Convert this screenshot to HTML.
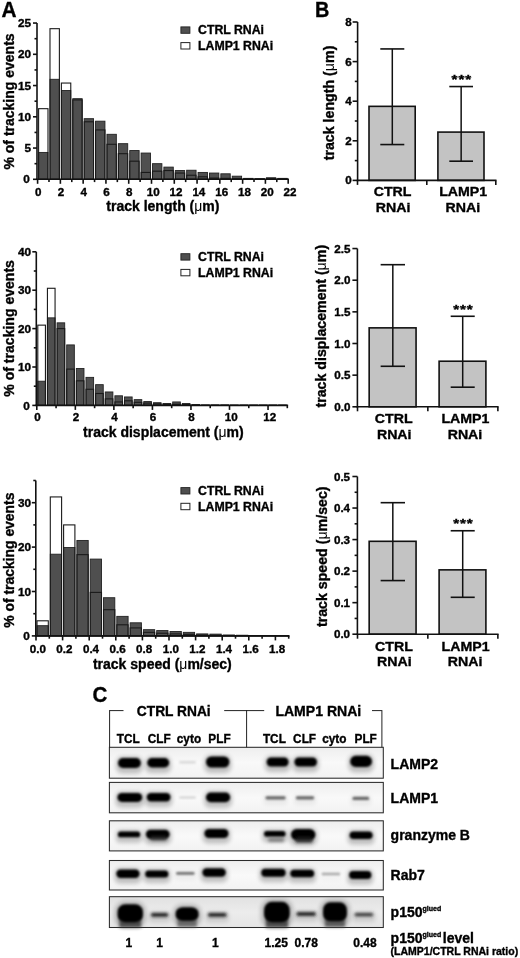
<!DOCTYPE html>
<html><head><meta charset="utf-8"><style>
html,body{margin:0;padding:0;background:#fff;}
svg{display:block;filter:grayscale(1) blur(0.4px);}
</style></head><body>
<svg width="520" height="958" viewBox="0 0 520 958" font-family="'Liberation Sans', sans-serif" font-weight="bold" fill="#000">
<style>text{stroke:#000;stroke-width:0.35px;paint-order:stroke;}</style>
<rect width="520" height="958" fill="#fff"/>
<rect x="38.60" y="152.43" width="9.39" height="26.88" fill="#4f4f4f" stroke="#222" stroke-width="0.9"/>
<rect x="49.99" y="79.30" width="9.39" height="100.00" fill="#4f4f4f" stroke="#222" stroke-width="0.9"/>
<rect x="61.38" y="90.55" width="9.39" height="88.75" fill="#4f4f4f" stroke="#222" stroke-width="0.9"/>
<rect x="72.77" y="98.68" width="9.39" height="80.62" fill="#4f4f4f" stroke="#222" stroke-width="0.9"/>
<rect x="84.16" y="118.68" width="9.39" height="60.62" fill="#4f4f4f" stroke="#222" stroke-width="0.9"/>
<rect x="95.55" y="121.18" width="9.39" height="58.13" fill="#4f4f4f" stroke="#222" stroke-width="0.9"/>
<rect x="106.94" y="134.30" width="9.39" height="45.00" fill="#4f4f4f" stroke="#222" stroke-width="0.9"/>
<rect x="118.33" y="143.68" width="9.39" height="35.62" fill="#4f4f4f" stroke="#222" stroke-width="0.9"/>
<rect x="129.72" y="150.55" width="9.39" height="28.75" fill="#4f4f4f" stroke="#222" stroke-width="0.9"/>
<rect x="141.11" y="153.05" width="9.39" height="26.25" fill="#4f4f4f" stroke="#222" stroke-width="0.9"/>
<rect x="152.50" y="163.68" width="9.39" height="15.62" fill="#4f4f4f" stroke="#222" stroke-width="0.9"/>
<rect x="163.89" y="167.11" width="9.39" height="12.19" fill="#4f4f4f" stroke="#222" stroke-width="0.9"/>
<rect x="175.28" y="170.55" width="9.39" height="8.75" fill="#4f4f4f" stroke="#222" stroke-width="0.9"/>
<rect x="186.67" y="170.24" width="9.39" height="9.06" fill="#4f4f4f" stroke="#222" stroke-width="0.9"/>
<rect x="198.06" y="172.43" width="9.39" height="6.88" fill="#4f4f4f" stroke="#222" stroke-width="0.9"/>
<rect x="209.45" y="173.05" width="9.39" height="6.25" fill="#4f4f4f" stroke="#222" stroke-width="0.9"/>
<rect x="220.84" y="173.80" width="9.39" height="5.50" fill="#4f4f4f" stroke="#222" stroke-width="0.9"/>
<rect x="232.23" y="176.18" width="9.39" height="3.12" fill="#4f4f4f" stroke="#222" stroke-width="0.9"/>
<rect x="243.62" y="178.36" width="9.39" height="0.94" fill="#4f4f4f" stroke="#222" stroke-width="0.9"/>
<rect x="255.01" y="178.68" width="9.39" height="0.62" fill="#4f4f4f" stroke="#222" stroke-width="0.9"/>
<rect x="266.40" y="177.74" width="9.39" height="1.56" fill="#4f4f4f" stroke="#222" stroke-width="0.9"/>
<rect x="277.79" y="178.36" width="9.39" height="0.94" fill="#4f4f4f" stroke="#222" stroke-width="0.9"/>
<rect x="38.60" y="108.68" width="9.39" height="70.62" fill="none" stroke="#1a1a1a" stroke-width="1.1"/>
<rect x="49.99" y="28.68" width="9.39" height="150.62" fill="none" stroke="#1a1a1a" stroke-width="1.1"/>
<rect x="61.38" y="83.05" width="9.39" height="96.25" fill="none" stroke="#1a1a1a" stroke-width="1.1"/>
<rect x="72.77" y="99.93" width="9.39" height="79.38" fill="none" stroke="#1a1a1a" stroke-width="1.1"/>
<rect x="84.16" y="121.80" width="9.39" height="57.50" fill="none" stroke="#1a1a1a" stroke-width="1.1"/>
<rect x="95.55" y="129.93" width="9.39" height="49.38" fill="none" stroke="#1a1a1a" stroke-width="1.1"/>
<rect x="106.94" y="144.30" width="9.39" height="35.00" fill="none" stroke="#1a1a1a" stroke-width="1.1"/>
<rect x="118.33" y="153.68" width="9.39" height="25.62" fill="none" stroke="#1a1a1a" stroke-width="1.1"/>
<rect x="129.72" y="161.18" width="9.39" height="18.12" fill="none" stroke="#1a1a1a" stroke-width="1.1"/>
<rect x="141.11" y="172.43" width="9.39" height="6.88" fill="none" stroke="#1a1a1a" stroke-width="1.1"/>
<rect x="152.50" y="171.18" width="9.39" height="8.12" fill="none" stroke="#1a1a1a" stroke-width="1.1"/>
<rect x="163.89" y="170.55" width="9.39" height="8.75" fill="none" stroke="#1a1a1a" stroke-width="1.1"/>
<rect x="175.28" y="173.05" width="9.39" height="6.25" fill="none" stroke="#1a1a1a" stroke-width="1.1"/>
<rect x="186.67" y="175.24" width="9.39" height="4.06" fill="none" stroke="#1a1a1a" stroke-width="1.1"/>
<rect x="198.06" y="176.80" width="9.39" height="2.50" fill="none" stroke="#1a1a1a" stroke-width="1.1"/>
<rect x="209.45" y="178.05" width="9.39" height="1.25" fill="none" stroke="#1a1a1a" stroke-width="1.1"/>
<rect x="220.84" y="178.36" width="9.39" height="0.94" fill="none" stroke="#1a1a1a" stroke-width="1.1"/>
<rect x="232.23" y="178.68" width="9.39" height="0.62" fill="none" stroke="#1a1a1a" stroke-width="1.1"/>
<rect x="243.62" y="178.99" width="9.39" height="0.31" fill="none" stroke="#1a1a1a" stroke-width="1.1"/>
<rect x="255.01" y="178.99" width="9.39" height="0.31" fill="none" stroke="#1a1a1a" stroke-width="1.1"/>
<rect x="266.40" y="178.68" width="9.39" height="0.62" fill="none" stroke="#1a1a1a" stroke-width="1.1"/>
<rect x="277.79" y="178.99" width="9.39" height="0.31" fill="none" stroke="#1a1a1a" stroke-width="1.1"/>
<line x1="37.00" y1="179.30" x2="37.00" y2="23.05" stroke="#111" stroke-width="1.6"/>
<line x1="33.00" y1="179.30" x2="37.00" y2="179.30" stroke="#111" stroke-width="1.6"/>
<line x1="34.50" y1="163.68" x2="37.00" y2="163.68" stroke="#111" stroke-width="1.6"/>
<line x1="33.00" y1="148.05" x2="37.00" y2="148.05" stroke="#111" stroke-width="1.6"/>
<line x1="34.50" y1="132.43" x2="37.00" y2="132.43" stroke="#111" stroke-width="1.6"/>
<line x1="33.00" y1="116.80" x2="37.00" y2="116.80" stroke="#111" stroke-width="1.6"/>
<line x1="34.50" y1="101.18" x2="37.00" y2="101.18" stroke="#111" stroke-width="1.6"/>
<line x1="33.00" y1="85.55" x2="37.00" y2="85.55" stroke="#111" stroke-width="1.6"/>
<line x1="34.50" y1="69.93" x2="37.00" y2="69.93" stroke="#111" stroke-width="1.6"/>
<line x1="33.00" y1="54.30" x2="37.00" y2="54.30" stroke="#111" stroke-width="1.6"/>
<line x1="34.50" y1="38.68" x2="37.00" y2="38.68" stroke="#111" stroke-width="1.6"/>
<line x1="33.00" y1="23.05" x2="37.00" y2="23.05" stroke="#111" stroke-width="1.6"/>
<text transform="translate(29.80,183.40) scale(1.07,1)" font-size="11.0" text-anchor="end" >0</text>
<text transform="translate(31.10,152.15) scale(1.07,1)" font-size="11.0" text-anchor="end" >5</text>
<text transform="translate(31.10,120.90) scale(1.07,1)" font-size="11.0" text-anchor="end" >10</text>
<text transform="translate(31.10,89.65) scale(1.07,1)" font-size="11.0" text-anchor="end" >15</text>
<text transform="translate(31.10,58.40) scale(1.07,1)" font-size="11.0" text-anchor="end" >20</text>
<text transform="translate(31.10,27.15) scale(1.07,1)" font-size="11.0" text-anchor="end" >25</text>
<line x1="36.20" y1="179.30" x2="288.98" y2="179.30" stroke="#111" stroke-width="1.6"/>
<line x1="37.60" y1="179.30" x2="37.60" y2="183.80" stroke="#111" stroke-width="1.6"/>
<line x1="48.99" y1="179.30" x2="48.99" y2="182.10" stroke="#111" stroke-width="1.6"/>
<line x1="60.38" y1="179.30" x2="60.38" y2="183.80" stroke="#111" stroke-width="1.6"/>
<line x1="71.77" y1="179.30" x2="71.77" y2="182.10" stroke="#111" stroke-width="1.6"/>
<line x1="83.16" y1="179.30" x2="83.16" y2="183.80" stroke="#111" stroke-width="1.6"/>
<line x1="94.55" y1="179.30" x2="94.55" y2="182.10" stroke="#111" stroke-width="1.6"/>
<line x1="105.94" y1="179.30" x2="105.94" y2="183.80" stroke="#111" stroke-width="1.6"/>
<line x1="117.33" y1="179.30" x2="117.33" y2="182.10" stroke="#111" stroke-width="1.6"/>
<line x1="128.72" y1="179.30" x2="128.72" y2="183.80" stroke="#111" stroke-width="1.6"/>
<line x1="140.11" y1="179.30" x2="140.11" y2="182.10" stroke="#111" stroke-width="1.6"/>
<line x1="151.50" y1="179.30" x2="151.50" y2="183.80" stroke="#111" stroke-width="1.6"/>
<line x1="162.89" y1="179.30" x2="162.89" y2="182.10" stroke="#111" stroke-width="1.6"/>
<line x1="174.28" y1="179.30" x2="174.28" y2="183.80" stroke="#111" stroke-width="1.6"/>
<line x1="185.67" y1="179.30" x2="185.67" y2="182.10" stroke="#111" stroke-width="1.6"/>
<line x1="197.06" y1="179.30" x2="197.06" y2="183.80" stroke="#111" stroke-width="1.6"/>
<line x1="208.45" y1="179.30" x2="208.45" y2="182.10" stroke="#111" stroke-width="1.6"/>
<line x1="219.84" y1="179.30" x2="219.84" y2="183.80" stroke="#111" stroke-width="1.6"/>
<line x1="231.23" y1="179.30" x2="231.23" y2="182.10" stroke="#111" stroke-width="1.6"/>
<line x1="242.62" y1="179.30" x2="242.62" y2="183.80" stroke="#111" stroke-width="1.6"/>
<line x1="254.01" y1="179.30" x2="254.01" y2="182.10" stroke="#111" stroke-width="1.6"/>
<line x1="265.40" y1="179.30" x2="265.40" y2="183.80" stroke="#111" stroke-width="1.6"/>
<line x1="276.79" y1="179.30" x2="276.79" y2="182.10" stroke="#111" stroke-width="1.6"/>
<line x1="288.18" y1="179.30" x2="288.18" y2="183.80" stroke="#111" stroke-width="1.6"/>
<text transform="translate(38.20,195.90) scale(1.06,1)" font-size="11.0" text-anchor="middle" >0</text>
<text transform="translate(60.98,195.90) scale(1.06,1)" font-size="11.0" text-anchor="middle" >2</text>
<text transform="translate(83.76,195.90) scale(1.06,1)" font-size="11.0" text-anchor="middle" >4</text>
<text transform="translate(106.54,195.90) scale(1.06,1)" font-size="11.0" text-anchor="middle" >6</text>
<text transform="translate(129.32,195.90) scale(1.06,1)" font-size="11.0" text-anchor="middle" >8</text>
<text transform="translate(153.30,195.90) scale(1.06,1)" font-size="11.0" text-anchor="middle" >10</text>
<text transform="translate(176.08,195.90) scale(1.06,1)" font-size="11.0" text-anchor="middle" >12</text>
<text transform="translate(198.86,195.90) scale(1.06,1)" font-size="11.0" text-anchor="middle" >14</text>
<text transform="translate(221.64,195.90) scale(1.06,1)" font-size="11.0" text-anchor="middle" >16</text>
<text transform="translate(244.42,195.90) scale(1.06,1)" font-size="11.0" text-anchor="middle" >18</text>
<text transform="translate(267.20,195.90) scale(1.06,1)" font-size="11.0" text-anchor="middle" >20</text>
<text transform="translate(289.98,195.90) scale(1.06,1)" font-size="11.0" text-anchor="middle" >22</text>
<text x="162.89" y="210.80" font-size="14" text-anchor="middle" >track length (<tspan font-weight="normal" style="stroke-width:0">μ</tspan>m)</text>
<text transform="translate(13.6,101.48) rotate(-90)" font-size="14.0" text-anchor="middle">% of tracking events</text>
<rect x="180.90" y="26.90" width="9.00" height="6.40" fill="#4f4f4f" stroke="#222" stroke-width="0.9"/>
<rect x="180.90" y="42.60" width="9.00" height="6.40" fill="#fff" stroke="#222" stroke-width="1.0"/>
<text x="198.00" y="34.10" font-size="12.3" text-anchor="start" >CTRL RNAi</text>
<text x="198.00" y="49.80" font-size="12.3" text-anchor="start" >LAMP1 RNAi</text>
<rect x="37.80" y="381.21" width="7.63" height="24.19" fill="#4f4f4f" stroke="#222" stroke-width="0.9"/>
<rect x="47.43" y="317.85" width="7.63" height="87.55" fill="#4f4f4f" stroke="#222" stroke-width="0.9"/>
<rect x="57.07" y="322.84" width="7.64" height="82.56" fill="#4f4f4f" stroke="#222" stroke-width="0.9"/>
<rect x="66.70" y="344.92" width="7.64" height="60.48" fill="#4f4f4f" stroke="#222" stroke-width="0.9"/>
<rect x="76.34" y="368.54" width="7.63" height="36.86" fill="#4f4f4f" stroke="#222" stroke-width="0.9"/>
<rect x="85.97" y="377.37" width="7.64" height="28.03" fill="#4f4f4f" stroke="#222" stroke-width="0.9"/>
<rect x="95.61" y="384.66" width="7.63" height="20.74" fill="#4f4f4f" stroke="#222" stroke-width="0.9"/>
<rect x="105.24" y="391.96" width="7.64" height="13.44" fill="#4f4f4f" stroke="#222" stroke-width="0.9"/>
<rect x="114.88" y="395.80" width="7.64" height="9.60" fill="#4f4f4f" stroke="#222" stroke-width="0.9"/>
<rect x="124.52" y="396.95" width="7.63" height="8.45" fill="#4f4f4f" stroke="#222" stroke-width="0.9"/>
<rect x="134.15" y="399.64" width="7.64" height="5.76" fill="#4f4f4f" stroke="#222" stroke-width="0.9"/>
<rect x="143.78" y="401.56" width="7.64" height="3.84" fill="#4f4f4f" stroke="#222" stroke-width="0.9"/>
<rect x="153.42" y="402.71" width="7.63" height="2.69" fill="#4f4f4f" stroke="#222" stroke-width="0.9"/>
<rect x="163.06" y="403.48" width="7.63" height="1.92" fill="#4f4f4f" stroke="#222" stroke-width="0.9"/>
<rect x="172.69" y="401.94" width="7.63" height="3.46" fill="#4f4f4f" stroke="#222" stroke-width="0.9"/>
<rect x="182.32" y="403.48" width="7.63" height="1.92" fill="#4f4f4f" stroke="#222" stroke-width="0.9"/>
<rect x="191.96" y="404.63" width="7.63" height="0.77" fill="#4f4f4f" stroke="#222" stroke-width="0.9"/>
<rect x="201.59" y="405.02" width="7.64" height="0.38" fill="#4f4f4f" stroke="#222" stroke-width="0.9"/>
<rect x="211.23" y="405.02" width="7.63" height="0.38" fill="#4f4f4f" stroke="#222" stroke-width="0.9"/>
<rect x="220.87" y="405.02" width="7.63" height="0.38" fill="#4f4f4f" stroke="#222" stroke-width="0.9"/>
<rect x="230.50" y="405.21" width="7.63" height="0.19" fill="#4f4f4f" stroke="#222" stroke-width="0.9"/>
<rect x="240.13" y="405.21" width="7.63" height="0.19" fill="#4f4f4f" stroke="#222" stroke-width="0.9"/>
<rect x="249.77" y="405.21" width="7.63" height="0.19" fill="#4f4f4f" stroke="#222" stroke-width="0.9"/>
<rect x="259.40" y="405.21" width="7.64" height="0.19" fill="#4f4f4f" stroke="#222" stroke-width="0.9"/>
<rect x="269.04" y="405.21" width="7.63" height="0.19" fill="#4f4f4f" stroke="#222" stroke-width="0.9"/>
<rect x="278.68" y="405.21" width="7.63" height="0.19" fill="#4f4f4f" stroke="#222" stroke-width="0.9"/>
<rect x="37.80" y="325.14" width="7.63" height="80.26" fill="none" stroke="#1a1a1a" stroke-width="1.1"/>
<rect x="47.43" y="288.28" width="7.63" height="117.12" fill="none" stroke="#1a1a1a" stroke-width="1.1"/>
<rect x="57.07" y="328.60" width="7.64" height="76.80" fill="none" stroke="#1a1a1a" stroke-width="1.1"/>
<rect x="66.70" y="369.11" width="7.64" height="36.29" fill="none" stroke="#1a1a1a" stroke-width="1.1"/>
<rect x="76.34" y="380.82" width="7.63" height="24.58" fill="none" stroke="#1a1a1a" stroke-width="1.1"/>
<rect x="85.97" y="389.27" width="7.64" height="16.13" fill="none" stroke="#1a1a1a" stroke-width="1.1"/>
<rect x="95.61" y="393.50" width="7.63" height="11.90" fill="none" stroke="#1a1a1a" stroke-width="1.1"/>
<rect x="105.24" y="398.87" width="7.64" height="6.53" fill="none" stroke="#1a1a1a" stroke-width="1.1"/>
<rect x="114.88" y="401.94" width="7.64" height="3.46" fill="none" stroke="#1a1a1a" stroke-width="1.1"/>
<rect x="124.52" y="400.79" width="7.63" height="4.61" fill="none" stroke="#1a1a1a" stroke-width="1.1"/>
<rect x="134.15" y="402.33" width="7.64" height="3.07" fill="none" stroke="#1a1a1a" stroke-width="1.1"/>
<rect x="143.78" y="403.10" width="7.64" height="2.30" fill="none" stroke="#1a1a1a" stroke-width="1.1"/>
<rect x="153.42" y="403.86" width="7.63" height="1.54" fill="none" stroke="#1a1a1a" stroke-width="1.1"/>
<rect x="163.06" y="404.25" width="7.63" height="1.15" fill="none" stroke="#1a1a1a" stroke-width="1.1"/>
<rect x="172.69" y="404.25" width="7.63" height="1.15" fill="none" stroke="#1a1a1a" stroke-width="1.1"/>
<rect x="182.32" y="404.63" width="7.63" height="0.77" fill="none" stroke="#1a1a1a" stroke-width="1.1"/>
<rect x="191.96" y="405.02" width="7.63" height="0.38" fill="none" stroke="#1a1a1a" stroke-width="1.1"/>
<rect x="201.59" y="405.21" width="7.64" height="0.19" fill="none" stroke="#1a1a1a" stroke-width="1.1"/>
<rect x="211.23" y="405.21" width="7.63" height="0.19" fill="none" stroke="#1a1a1a" stroke-width="1.1"/>
<rect x="220.87" y="405.21" width="7.63" height="0.19" fill="none" stroke="#1a1a1a" stroke-width="1.1"/>
<rect x="230.50" y="405.21" width="7.63" height="0.19" fill="none" stroke="#1a1a1a" stroke-width="1.1"/>
<rect x="240.13" y="405.21" width="7.63" height="0.19" fill="none" stroke="#1a1a1a" stroke-width="1.1"/>
<rect x="249.77" y="405.21" width="7.63" height="0.19" fill="none" stroke="#1a1a1a" stroke-width="1.1"/>
<rect x="259.40" y="405.21" width="7.64" height="0.19" fill="none" stroke="#1a1a1a" stroke-width="1.1"/>
<rect x="269.04" y="405.21" width="7.63" height="0.19" fill="none" stroke="#1a1a1a" stroke-width="1.1"/>
<rect x="278.68" y="405.21" width="7.63" height="0.19" fill="none" stroke="#1a1a1a" stroke-width="1.1"/>
<line x1="36.30" y1="405.40" x2="36.30" y2="251.80" stroke="#111" stroke-width="1.6"/>
<line x1="32.30" y1="405.40" x2="36.30" y2="405.40" stroke="#111" stroke-width="1.6"/>
<line x1="33.80" y1="386.20" x2="36.30" y2="386.20" stroke="#111" stroke-width="1.6"/>
<line x1="32.30" y1="367.00" x2="36.30" y2="367.00" stroke="#111" stroke-width="1.6"/>
<line x1="33.80" y1="347.80" x2="36.30" y2="347.80" stroke="#111" stroke-width="1.6"/>
<line x1="32.30" y1="328.60" x2="36.30" y2="328.60" stroke="#111" stroke-width="1.6"/>
<line x1="33.80" y1="309.40" x2="36.30" y2="309.40" stroke="#111" stroke-width="1.6"/>
<line x1="32.30" y1="290.20" x2="36.30" y2="290.20" stroke="#111" stroke-width="1.6"/>
<line x1="33.80" y1="271.00" x2="36.30" y2="271.00" stroke="#111" stroke-width="1.6"/>
<line x1="32.30" y1="251.80" x2="36.30" y2="251.80" stroke="#111" stroke-width="1.6"/>
<text transform="translate(29.80,409.50) scale(1.07,1)" font-size="11.0" text-anchor="end" >0</text>
<text transform="translate(31.10,371.10) scale(1.07,1)" font-size="11.0" text-anchor="end" >10</text>
<text transform="translate(31.10,332.70) scale(1.07,1)" font-size="11.0" text-anchor="end" >20</text>
<text transform="translate(31.10,294.30) scale(1.07,1)" font-size="11.0" text-anchor="end" >30</text>
<text transform="translate(31.10,255.90) scale(1.07,1)" font-size="11.0" text-anchor="end" >40</text>
<line x1="35.50" y1="405.40" x2="288.11" y2="405.40" stroke="#111" stroke-width="1.6"/>
<line x1="36.80" y1="405.40" x2="36.80" y2="409.90" stroke="#111" stroke-width="1.6"/>
<line x1="56.07" y1="405.40" x2="56.07" y2="408.20" stroke="#111" stroke-width="1.6"/>
<line x1="75.34" y1="405.40" x2="75.34" y2="409.90" stroke="#111" stroke-width="1.6"/>
<line x1="94.61" y1="405.40" x2="94.61" y2="408.20" stroke="#111" stroke-width="1.6"/>
<line x1="113.88" y1="405.40" x2="113.88" y2="409.90" stroke="#111" stroke-width="1.6"/>
<line x1="133.15" y1="405.40" x2="133.15" y2="408.20" stroke="#111" stroke-width="1.6"/>
<line x1="152.42" y1="405.40" x2="152.42" y2="409.90" stroke="#111" stroke-width="1.6"/>
<line x1="171.69" y1="405.40" x2="171.69" y2="408.20" stroke="#111" stroke-width="1.6"/>
<line x1="190.96" y1="405.40" x2="190.96" y2="409.90" stroke="#111" stroke-width="1.6"/>
<line x1="210.23" y1="405.40" x2="210.23" y2="408.20" stroke="#111" stroke-width="1.6"/>
<line x1="229.50" y1="405.40" x2="229.50" y2="409.90" stroke="#111" stroke-width="1.6"/>
<line x1="248.77" y1="405.40" x2="248.77" y2="408.20" stroke="#111" stroke-width="1.6"/>
<line x1="268.04" y1="405.40" x2="268.04" y2="409.90" stroke="#111" stroke-width="1.6"/>
<line x1="287.31" y1="405.40" x2="287.31" y2="408.20" stroke="#111" stroke-width="1.6"/>
<text transform="translate(37.40,421.00) scale(1.06,1)" font-size="11.0" text-anchor="middle" >0</text>
<text transform="translate(75.94,421.00) scale(1.06,1)" font-size="11.0" text-anchor="middle" >2</text>
<text transform="translate(114.48,421.00) scale(1.06,1)" font-size="11.0" text-anchor="middle" >4</text>
<text transform="translate(153.02,421.00) scale(1.06,1)" font-size="11.0" text-anchor="middle" >6</text>
<text transform="translate(191.56,421.00) scale(1.06,1)" font-size="11.0" text-anchor="middle" >8</text>
<text transform="translate(231.30,421.00) scale(1.06,1)" font-size="11.0" text-anchor="middle" >10</text>
<text transform="translate(269.84,421.00) scale(1.06,1)" font-size="11.0" text-anchor="middle" >12</text>
<text x="163.36" y="437.00" font-size="14" text-anchor="middle" >track displacement (<tspan font-weight="normal" style="stroke-width:0">μ</tspan>m)</text>
<text transform="translate(13.6,328.40) rotate(-90)" font-size="14.05" text-anchor="middle">% of tracking events</text>
<rect x="180.90" y="253.70" width="9.00" height="6.40" fill="#4f4f4f" stroke="#222" stroke-width="0.9"/>
<rect x="180.90" y="269.40" width="9.00" height="6.40" fill="#fff" stroke="#222" stroke-width="1.0"/>
<text x="198.00" y="260.90" font-size="12.3" text-anchor="start" >CTRL RNAi</text>
<text x="198.00" y="276.60" font-size="12.3" text-anchor="start" >LAMP1 RNAi</text>
<rect x="37.00" y="625.69" width="11.30" height="10.21" fill="#4f4f4f" stroke="#222" stroke-width="0.9"/>
<rect x="50.30" y="554.20" width="11.30" height="81.70" fill="#4f4f4f" stroke="#222" stroke-width="0.9"/>
<rect x="63.60" y="547.54" width="11.30" height="88.36" fill="#4f4f4f" stroke="#222" stroke-width="0.9"/>
<rect x="76.90" y="540.44" width="11.30" height="95.46" fill="#4f4f4f" stroke="#222" stroke-width="0.9"/>
<rect x="90.20" y="559.09" width="11.30" height="76.81" fill="#4f4f4f" stroke="#222" stroke-width="0.9"/>
<rect x="103.50" y="597.72" width="11.30" height="38.18" fill="#4f4f4f" stroke="#222" stroke-width="0.9"/>
<rect x="116.80" y="616.36" width="11.30" height="19.54" fill="#4f4f4f" stroke="#222" stroke-width="0.9"/>
<rect x="130.10" y="622.80" width="11.30" height="13.10" fill="#4f4f4f" stroke="#222" stroke-width="0.9"/>
<rect x="143.40" y="629.68" width="11.30" height="6.22" fill="#4f4f4f" stroke="#222" stroke-width="0.9"/>
<rect x="156.70" y="630.57" width="11.30" height="5.33" fill="#4f4f4f" stroke="#222" stroke-width="0.9"/>
<rect x="170.00" y="631.46" width="11.30" height="4.44" fill="#4f4f4f" stroke="#222" stroke-width="0.9"/>
<rect x="183.30" y="632.35" width="11.30" height="3.55" fill="#4f4f4f" stroke="#222" stroke-width="0.9"/>
<rect x="196.60" y="633.90" width="11.30" height="2.00" fill="#4f4f4f" stroke="#222" stroke-width="0.9"/>
<rect x="209.90" y="634.12" width="11.30" height="1.78" fill="#4f4f4f" stroke="#222" stroke-width="0.9"/>
<rect x="223.20" y="635.01" width="11.30" height="0.89" fill="#4f4f4f" stroke="#222" stroke-width="0.9"/>
<rect x="236.50" y="635.23" width="11.30" height="0.67" fill="#4f4f4f" stroke="#222" stroke-width="0.9"/>
<rect x="249.80" y="635.46" width="11.30" height="0.44" fill="#4f4f4f" stroke="#222" stroke-width="0.9"/>
<rect x="263.10" y="635.46" width="11.30" height="0.44" fill="#4f4f4f" stroke="#222" stroke-width="0.9"/>
<rect x="276.40" y="635.46" width="11.30" height="0.44" fill="#4f4f4f" stroke="#222" stroke-width="0.9"/>
<rect x="37.00" y="620.80" width="11.30" height="15.10" fill="none" stroke="#1a1a1a" stroke-width="1.1"/>
<rect x="50.30" y="496.93" width="11.30" height="138.97" fill="none" stroke="#1a1a1a" stroke-width="1.1"/>
<rect x="63.60" y="524.90" width="11.30" height="111.00" fill="none" stroke="#1a1a1a" stroke-width="1.1"/>
<rect x="76.90" y="554.65" width="11.30" height="81.25" fill="none" stroke="#1a1a1a" stroke-width="1.1"/>
<rect x="90.20" y="592.39" width="11.30" height="43.51" fill="none" stroke="#1a1a1a" stroke-width="1.1"/>
<rect x="103.50" y="609.70" width="11.30" height="26.20" fill="none" stroke="#1a1a1a" stroke-width="1.1"/>
<rect x="116.80" y="624.80" width="11.30" height="11.10" fill="none" stroke="#1a1a1a" stroke-width="1.1"/>
<rect x="130.10" y="627.91" width="11.30" height="7.99" fill="none" stroke="#1a1a1a" stroke-width="1.1"/>
<rect x="143.40" y="632.35" width="11.30" height="3.55" fill="none" stroke="#1a1a1a" stroke-width="1.1"/>
<rect x="156.70" y="633.24" width="11.30" height="2.66" fill="none" stroke="#1a1a1a" stroke-width="1.1"/>
<rect x="170.00" y="633.90" width="11.30" height="2.00" fill="none" stroke="#1a1a1a" stroke-width="1.1"/>
<rect x="183.30" y="634.35" width="11.30" height="1.55" fill="none" stroke="#1a1a1a" stroke-width="1.1"/>
<rect x="196.60" y="635.01" width="11.30" height="0.89" fill="none" stroke="#1a1a1a" stroke-width="1.1"/>
<rect x="209.90" y="635.23" width="11.30" height="0.67" fill="none" stroke="#1a1a1a" stroke-width="1.1"/>
<rect x="223.20" y="635.46" width="11.30" height="0.44" fill="none" stroke="#1a1a1a" stroke-width="1.1"/>
<rect x="236.50" y="635.68" width="11.30" height="0.22" fill="none" stroke="#1a1a1a" stroke-width="1.1"/>
<rect x="249.80" y="635.68" width="11.30" height="0.22" fill="none" stroke="#1a1a1a" stroke-width="1.1"/>
<rect x="263.10" y="635.68" width="11.30" height="0.22" fill="none" stroke="#1a1a1a" stroke-width="1.1"/>
<rect x="276.40" y="635.68" width="11.30" height="0.22" fill="none" stroke="#1a1a1a" stroke-width="1.1"/>
<line x1="35.80" y1="635.90" x2="35.80" y2="480.50" stroke="#111" stroke-width="1.6"/>
<line x1="31.80" y1="635.90" x2="35.80" y2="635.90" stroke="#111" stroke-width="1.6"/>
<line x1="33.30" y1="613.70" x2="35.80" y2="613.70" stroke="#111" stroke-width="1.6"/>
<line x1="31.80" y1="591.50" x2="35.80" y2="591.50" stroke="#111" stroke-width="1.6"/>
<line x1="33.30" y1="569.30" x2="35.80" y2="569.30" stroke="#111" stroke-width="1.6"/>
<line x1="31.80" y1="547.10" x2="35.80" y2="547.10" stroke="#111" stroke-width="1.6"/>
<line x1="33.30" y1="524.90" x2="35.80" y2="524.90" stroke="#111" stroke-width="1.6"/>
<line x1="31.80" y1="502.70" x2="35.80" y2="502.70" stroke="#111" stroke-width="1.6"/>
<line x1="33.30" y1="480.50" x2="35.80" y2="480.50" stroke="#111" stroke-width="1.6"/>
<text transform="translate(29.80,640.00) scale(1.07,1)" font-size="11.0" text-anchor="end" >0</text>
<text transform="translate(31.10,595.60) scale(1.07,1)" font-size="11.0" text-anchor="end" >10</text>
<text transform="translate(31.10,551.20) scale(1.07,1)" font-size="11.0" text-anchor="end" >20</text>
<text transform="translate(31.10,506.80) scale(1.07,1)" font-size="11.0" text-anchor="end" >30</text>
<line x1="35.00" y1="635.90" x2="289.50" y2="635.90" stroke="#111" stroke-width="1.6"/>
<line x1="36.00" y1="635.90" x2="36.00" y2="640.40" stroke="#111" stroke-width="1.6"/>
<line x1="49.30" y1="635.90" x2="49.30" y2="638.70" stroke="#111" stroke-width="1.6"/>
<line x1="62.60" y1="635.90" x2="62.60" y2="640.40" stroke="#111" stroke-width="1.6"/>
<line x1="75.90" y1="635.90" x2="75.90" y2="638.70" stroke="#111" stroke-width="1.6"/>
<line x1="89.20" y1="635.90" x2="89.20" y2="640.40" stroke="#111" stroke-width="1.6"/>
<line x1="102.50" y1="635.90" x2="102.50" y2="638.70" stroke="#111" stroke-width="1.6"/>
<line x1="115.80" y1="635.90" x2="115.80" y2="640.40" stroke="#111" stroke-width="1.6"/>
<line x1="129.10" y1="635.90" x2="129.10" y2="638.70" stroke="#111" stroke-width="1.6"/>
<line x1="142.40" y1="635.90" x2="142.40" y2="640.40" stroke="#111" stroke-width="1.6"/>
<line x1="155.70" y1="635.90" x2="155.70" y2="638.70" stroke="#111" stroke-width="1.6"/>
<line x1="169.00" y1="635.90" x2="169.00" y2="640.40" stroke="#111" stroke-width="1.6"/>
<line x1="182.30" y1="635.90" x2="182.30" y2="638.70" stroke="#111" stroke-width="1.6"/>
<line x1="195.60" y1="635.90" x2="195.60" y2="640.40" stroke="#111" stroke-width="1.6"/>
<line x1="208.90" y1="635.90" x2="208.90" y2="638.70" stroke="#111" stroke-width="1.6"/>
<line x1="222.20" y1="635.90" x2="222.20" y2="640.40" stroke="#111" stroke-width="1.6"/>
<line x1="235.50" y1="635.90" x2="235.50" y2="638.70" stroke="#111" stroke-width="1.6"/>
<line x1="248.80" y1="635.90" x2="248.80" y2="640.40" stroke="#111" stroke-width="1.6"/>
<line x1="262.10" y1="635.90" x2="262.10" y2="638.70" stroke="#111" stroke-width="1.6"/>
<line x1="275.40" y1="635.90" x2="275.40" y2="640.40" stroke="#111" stroke-width="1.6"/>
<line x1="288.70" y1="635.90" x2="288.70" y2="638.70" stroke="#111" stroke-width="1.6"/>
<text transform="translate(37.80,652.50) scale(1.06,1)" font-size="11.0" text-anchor="middle" >0.0</text>
<text transform="translate(64.40,652.50) scale(1.06,1)" font-size="11.0" text-anchor="middle" >0.2</text>
<text transform="translate(91.00,652.50) scale(1.06,1)" font-size="11.0" text-anchor="middle" >0.4</text>
<text transform="translate(117.60,652.50) scale(1.06,1)" font-size="11.0" text-anchor="middle" >0.6</text>
<text transform="translate(144.20,652.50) scale(1.06,1)" font-size="11.0" text-anchor="middle" >0.8</text>
<text transform="translate(170.80,652.50) scale(1.06,1)" font-size="11.0" text-anchor="middle" >1.0</text>
<text transform="translate(197.40,652.50) scale(1.06,1)" font-size="11.0" text-anchor="middle" >1.2</text>
<text transform="translate(224.00,652.50) scale(1.06,1)" font-size="11.0" text-anchor="middle" >1.4</text>
<text transform="translate(250.60,652.50) scale(1.06,1)" font-size="11.0" text-anchor="middle" >1.6</text>
<text transform="translate(277.20,652.50) scale(1.06,1)" font-size="11.0" text-anchor="middle" >1.8</text>
<text x="162.35" y="668.90" font-size="14" text-anchor="middle" >track speed (<tspan font-weight="normal" style="stroke-width:0">μ</tspan>m/sec)</text>
<text transform="translate(13.6,560.15) rotate(-90)" font-size="13.9" text-anchor="middle">% of tracking events</text>
<rect x="180.90" y="487.60" width="9.00" height="6.40" fill="#4f4f4f" stroke="#222" stroke-width="0.9"/>
<rect x="180.90" y="503.30" width="9.00" height="6.40" fill="#fff" stroke="#222" stroke-width="1.0"/>
<text x="198.00" y="494.80" font-size="12.3" text-anchor="start" >CTRL RNAi</text>
<text x="198.00" y="510.50" font-size="12.3" text-anchor="start" >LAMP1 RNAi</text>
<rect x="369.00" y="106.35" width="46.20" height="74.05" fill="#c3c3c3" stroke="#111" stroke-width="1.6"/>
<line x1="392.30" y1="48.93" x2="392.30" y2="144.56" stroke="#111" stroke-width="1.5"/>
<line x1="380.30" y1="48.93" x2="404.30" y2="48.93" stroke="#111" stroke-width="1.6"/>
<line x1="380.30" y1="144.56" x2="404.30" y2="144.56" stroke="#111" stroke-width="1.6"/>
<rect x="437.90" y="132.09" width="46.10" height="48.31" fill="#c3c3c3" stroke="#111" stroke-width="1.6"/>
<line x1="461.15" y1="86.55" x2="461.15" y2="161.19" stroke="#111" stroke-width="1.5"/>
<line x1="449.30" y1="86.55" x2="473.00" y2="86.55" stroke="#111" stroke-width="1.6"/>
<line x1="449.30" y1="161.19" x2="473.00" y2="161.19" stroke="#111" stroke-width="1.6"/>
<text transform="translate(461.85,84.05) scale(1.19,1)" font-size="12.8" text-anchor="middle" letter-spacing="0.77">***</text>
<line x1="357.60" y1="181.20" x2="357.60" y2="22.00" stroke="#111" stroke-width="1.6"/>
<line x1="352.60" y1="180.40" x2="357.60" y2="180.40" stroke="#111" stroke-width="1.6"/>
<line x1="354.80" y1="160.60" x2="357.60" y2="160.60" stroke="#111" stroke-width="1.6"/>
<line x1="352.60" y1="140.80" x2="357.60" y2="140.80" stroke="#111" stroke-width="1.6"/>
<line x1="354.80" y1="121.00" x2="357.60" y2="121.00" stroke="#111" stroke-width="1.6"/>
<line x1="352.60" y1="101.20" x2="357.60" y2="101.20" stroke="#111" stroke-width="1.6"/>
<line x1="354.80" y1="81.40" x2="357.60" y2="81.40" stroke="#111" stroke-width="1.6"/>
<line x1="352.60" y1="61.60" x2="357.60" y2="61.60" stroke="#111" stroke-width="1.6"/>
<line x1="354.80" y1="41.80" x2="357.60" y2="41.80" stroke="#111" stroke-width="1.6"/>
<line x1="352.60" y1="22.00" x2="357.60" y2="22.00" stroke="#111" stroke-width="1.6"/>
<text transform="translate(351.70,184.40) scale(1.06,1)" font-size="11.0" text-anchor="end" >0</text>
<text transform="translate(351.70,144.80) scale(1.06,1)" font-size="11.0" text-anchor="end" >2</text>
<text transform="translate(351.70,105.20) scale(1.06,1)" font-size="11.0" text-anchor="end" >4</text>
<text transform="translate(351.70,65.60) scale(1.06,1)" font-size="11.0" text-anchor="end" >6</text>
<text transform="translate(351.70,26.00) scale(1.06,1)" font-size="11.0" text-anchor="end" >8</text>
<line x1="356.80" y1="180.40" x2="496.50" y2="180.40" stroke="#111" stroke-width="1.6"/>
<line x1="357.50" y1="180.40" x2="357.50" y2="184.90" stroke="#111" stroke-width="1.6"/>
<line x1="426.80" y1="180.40" x2="426.80" y2="184.90" stroke="#111" stroke-width="1.6"/>
<line x1="495.80" y1="180.40" x2="495.80" y2="184.90" stroke="#111" stroke-width="1.6"/>
<text transform="translate(392.60,196.40) scale(1.05,1)" font-size="13.5" text-anchor="middle" >CTRL</text>
<text transform="translate(393.10,212.00) scale(1.05,1)" font-size="13.5" text-anchor="middle" >RNAi</text>
<text transform="translate(463.20,196.40) scale(1.05,1)" font-size="13.5" text-anchor="middle" >LAMP1</text>
<text transform="translate(462.80,212.00) scale(1.05,1)" font-size="13.5" text-anchor="middle" >RNAi</text>
<text transform="translate(333.9,102.95) rotate(-90)" font-size="14.2" text-anchor="middle">track length (<tspan font-weight="normal" style="stroke-width:0">μ</tspan>m)</text>
<rect x="369.17" y="327.86" width="46.89" height="78.94" fill="#c3c3c3" stroke="#111" stroke-width="1.6"/>
<line x1="392.82" y1="264.69" x2="392.82" y2="366.29" stroke="#111" stroke-width="1.5"/>
<line x1="380.64" y1="264.69" x2="405.00" y2="264.69" stroke="#111" stroke-width="1.6"/>
<line x1="380.64" y1="366.29" x2="405.00" y2="366.29" stroke="#111" stroke-width="1.6"/>
<rect x="439.11" y="361.22" width="46.79" height="45.58" fill="#c3c3c3" stroke="#111" stroke-width="1.6"/>
<line x1="462.70" y1="316.28" x2="462.70" y2="387.18" stroke="#111" stroke-width="1.5"/>
<line x1="450.68" y1="316.28" x2="474.73" y2="316.28" stroke="#111" stroke-width="1.6"/>
<line x1="450.68" y1="387.18" x2="474.73" y2="387.18" stroke="#111" stroke-width="1.6"/>
<text transform="translate(463.41,313.78) scale(1.19,1)" font-size="12.8" text-anchor="middle" letter-spacing="0.77">***</text>
<line x1="357.40" y1="407.60" x2="357.40" y2="248.55" stroke="#111" stroke-width="1.6"/>
<line x1="352.40" y1="406.80" x2="357.40" y2="406.80" stroke="#111" stroke-width="1.6"/>
<line x1="352.40" y1="375.15" x2="357.40" y2="375.15" stroke="#111" stroke-width="1.6"/>
<line x1="352.40" y1="343.50" x2="357.40" y2="343.50" stroke="#111" stroke-width="1.6"/>
<line x1="352.40" y1="311.85" x2="357.40" y2="311.85" stroke="#111" stroke-width="1.6"/>
<line x1="352.40" y1="280.20" x2="357.40" y2="280.20" stroke="#111" stroke-width="1.6"/>
<line x1="352.40" y1="248.55" x2="357.40" y2="248.55" stroke="#111" stroke-width="1.6"/>
<text transform="translate(350.50,410.80) scale(1.06,1)" font-size="11.0" text-anchor="end" >0.0</text>
<text transform="translate(350.50,379.15) scale(1.06,1)" font-size="11.0" text-anchor="end" >0.5</text>
<text transform="translate(350.50,347.50) scale(1.06,1)" font-size="11.0" text-anchor="end" >1.0</text>
<text transform="translate(350.50,315.85) scale(1.06,1)" font-size="11.0" text-anchor="end" >1.5</text>
<text transform="translate(350.50,284.20) scale(1.06,1)" font-size="11.0" text-anchor="end" >2.0</text>
<text transform="translate(350.50,252.55) scale(1.06,1)" font-size="11.0" text-anchor="end" >2.5</text>
<line x1="356.60" y1="406.80" x2="498.58" y2="406.80" stroke="#111" stroke-width="1.6"/>
<line x1="357.50" y1="406.80" x2="357.50" y2="411.30" stroke="#111" stroke-width="1.6"/>
<line x1="427.84" y1="406.80" x2="427.84" y2="411.30" stroke="#111" stroke-width="1.6"/>
<line x1="497.87" y1="406.80" x2="497.87" y2="411.30" stroke="#111" stroke-width="1.6"/>
<text transform="translate(393.73,423.20) scale(1.05,1)" font-size="13.5" text-anchor="middle" >CTRL</text>
<text transform="translate(394.23,438.80) scale(1.05,1)" font-size="13.5" text-anchor="middle" >RNAi</text>
<text transform="translate(465.39,423.20) scale(1.05,1)" font-size="13.5" text-anchor="middle" >LAMP1</text>
<text transform="translate(464.98,438.80) scale(1.05,1)" font-size="13.5" text-anchor="middle" >RNAi</text>
<text transform="translate(326.0,326.23) rotate(-90)" font-size="14.2" text-anchor="middle">track displacement (<tspan font-weight="normal" style="stroke-width:0">μ</tspan>m)</text>
<rect x="369.17" y="541.31" width="46.89" height="92.89" fill="#c3c3c3" stroke="#111" stroke-width="1.6"/>
<line x1="392.82" y1="502.68" x2="392.82" y2="580.58" stroke="#111" stroke-width="1.5"/>
<line x1="380.64" y1="502.68" x2="405.00" y2="502.68" stroke="#111" stroke-width="1.6"/>
<line x1="380.64" y1="580.58" x2="405.00" y2="580.58" stroke="#111" stroke-width="1.6"/>
<rect x="439.11" y="569.86" width="46.79" height="64.34" fill="#c3c3c3" stroke="#111" stroke-width="1.6"/>
<line x1="462.70" y1="530.75" x2="462.70" y2="597.30" stroke="#111" stroke-width="1.5"/>
<line x1="450.68" y1="530.75" x2="474.73" y2="530.75" stroke="#111" stroke-width="1.6"/>
<line x1="450.68" y1="597.30" x2="474.73" y2="597.30" stroke="#111" stroke-width="1.6"/>
<text transform="translate(463.41,528.25) scale(1.19,1)" font-size="12.8" text-anchor="middle" letter-spacing="0.77">***</text>
<line x1="357.40" y1="635.00" x2="357.40" y2="476.50" stroke="#111" stroke-width="1.6"/>
<line x1="352.40" y1="634.20" x2="357.40" y2="634.20" stroke="#111" stroke-width="1.6"/>
<line x1="354.60" y1="618.43" x2="357.40" y2="618.43" stroke="#111" stroke-width="1.6"/>
<line x1="352.40" y1="602.66" x2="357.40" y2="602.66" stroke="#111" stroke-width="1.6"/>
<line x1="354.60" y1="586.89" x2="357.40" y2="586.89" stroke="#111" stroke-width="1.6"/>
<line x1="352.40" y1="571.12" x2="357.40" y2="571.12" stroke="#111" stroke-width="1.6"/>
<line x1="354.60" y1="555.35" x2="357.40" y2="555.35" stroke="#111" stroke-width="1.6"/>
<line x1="352.40" y1="539.58" x2="357.40" y2="539.58" stroke="#111" stroke-width="1.6"/>
<line x1="354.60" y1="523.81" x2="357.40" y2="523.81" stroke="#111" stroke-width="1.6"/>
<line x1="352.40" y1="508.04" x2="357.40" y2="508.04" stroke="#111" stroke-width="1.6"/>
<line x1="354.60" y1="492.27" x2="357.40" y2="492.27" stroke="#111" stroke-width="1.6"/>
<line x1="352.40" y1="476.50" x2="357.40" y2="476.50" stroke="#111" stroke-width="1.6"/>
<text transform="translate(350.10,638.20) scale(1.06,1)" font-size="11.0" text-anchor="end" >0.0</text>
<text transform="translate(350.10,606.66) scale(1.06,1)" font-size="11.0" text-anchor="end" >0.1</text>
<text transform="translate(350.10,575.12) scale(1.06,1)" font-size="11.0" text-anchor="end" >0.2</text>
<text transform="translate(350.10,543.58) scale(1.06,1)" font-size="11.0" text-anchor="end" >0.3</text>
<text transform="translate(350.10,512.04) scale(1.06,1)" font-size="11.0" text-anchor="end" >0.4</text>
<text transform="translate(350.10,480.50) scale(1.06,1)" font-size="11.0" text-anchor="end" >0.5</text>
<line x1="356.60" y1="634.20" x2="498.58" y2="634.20" stroke="#111" stroke-width="1.6"/>
<line x1="357.50" y1="634.20" x2="357.50" y2="638.70" stroke="#111" stroke-width="1.6"/>
<line x1="427.84" y1="634.20" x2="427.84" y2="638.70" stroke="#111" stroke-width="1.6"/>
<line x1="497.87" y1="634.20" x2="497.87" y2="638.70" stroke="#111" stroke-width="1.6"/>
<text transform="translate(393.93,650.60) scale(1.05,1)" font-size="13.5" text-anchor="middle" >CTRL</text>
<text transform="translate(394.43,666.20) scale(1.05,1)" font-size="13.5" text-anchor="middle" >RNAi</text>
<text transform="translate(465.59,650.60) scale(1.05,1)" font-size="13.5" text-anchor="middle" >LAMP1</text>
<text transform="translate(465.18,666.20) scale(1.05,1)" font-size="13.5" text-anchor="middle" >RNAi</text>
<text transform="translate(326.7,556.75) rotate(-90)" font-size="14.2" text-anchor="middle">track speed (<tspan font-weight="normal" style="stroke-width:0">μ</tspan>m/sec)</text>
<text transform="translate(1.50,16.90) scale(0.97,1)" font-size="21.5" text-anchor="start" >A</text>
<text transform="translate(314.90,16.50) scale(0.9,1)" font-size="22.1" text-anchor="start" >B</text>
<text transform="translate(92.40,701.80) scale(0.91,1)" font-size="22.6" text-anchor="start" >C</text>
<defs>
<filter id="b1" x="-30%" y="-80%" width="160%" height="260%"><feGaussianBlur stdDeviation="0.9"/></filter>
<filter id="b2" x="-30%" y="-80%" width="160%" height="260%"><feGaussianBlur stdDeviation="2.2"/></filter>
<filter id="b3" x="-30%" y="-80%" width="160%" height="260%"><feGaussianBlur stdDeviation="1.5"/></filter>
<linearGradient id="bg" x1="0" y1="0" x2="0" y2="1"><stop offset="0" stop-color="#eeeeee"/><stop offset="0.5" stop-color="#f9f9f9"/><stop offset="1" stop-color="#f2f2f2"/></linearGradient>
</defs>
<rect x="109.4" y="747.3" width="273.90" height="30.90" fill="url(#bg)" stroke="#2a2a2a" stroke-width="1.05"/>
<rect x="109.4" y="782.4" width="273.90" height="30.40" fill="url(#bg)" stroke="#2a2a2a" stroke-width="1.05"/>
<rect x="109.4" y="820.8" width="273.90" height="30.10" fill="url(#bg)" stroke="#2a2a2a" stroke-width="1.05"/>
<rect x="109.4" y="860.5" width="273.90" height="29.50" fill="url(#bg)" stroke="#2a2a2a" stroke-width="1.05"/>
<rect x="109.4" y="896.7" width="273.90" height="30.80" fill="url(#bg)" stroke="#2a2a2a" stroke-width="1.05"/>
<rect x="110.0" y="897.3000000000001" width="272.70" height="29.60" fill="#000" opacity="0.05"/>
<rect x="115.90" y="756.50" width="27.10" height="17.00" rx="6.50" fill="#000" opacity="0.22" filter="url(#b2)"/>
<rect x="118.00" y="758.00" width="22.90" height="10.00" rx="5.00" fill="#000" filter="url(#b1)"/>
<rect x="145.10" y="756.60" width="26.20" height="16.40" rx="6.20" fill="#000" opacity="0.22" filter="url(#b2)"/>
<rect x="147.20" y="758.10" width="22.00" height="9.40" rx="4.70" fill="#000" filter="url(#b1)"/>
<rect x="179.10" y="760.95" width="16.80" height="2.50" rx="1.25" fill="#d8d8d8" filter="url(#b1)"/>
<rect x="203.90" y="755.00" width="27.60" height="18.00" rx="7.00" fill="#000" opacity="0.22" filter="url(#b2)"/>
<rect x="206.00" y="756.50" width="23.40" height="11.00" rx="5.50" fill="#000" filter="url(#b1)"/>
<rect x="264.50" y="756.00" width="26.20" height="16.00" rx="6.00" fill="#000" opacity="0.22" filter="url(#b2)"/>
<rect x="266.60" y="757.50" width="22.00" height="9.00" rx="4.50" fill="#000" filter="url(#b1)"/>
<rect x="292.30" y="756.00" width="26.80" height="16.00" rx="6.00" fill="#000" opacity="0.22" filter="url(#b2)"/>
<rect x="294.40" y="757.50" width="22.60" height="9.00" rx="4.50" fill="#000" filter="url(#b1)"/>
<rect x="348.10" y="754.30" width="26.00" height="18.20" rx="7.10" fill="#000" opacity="0.22" filter="url(#b2)"/>
<rect x="350.20" y="755.80" width="21.80" height="11.20" rx="5.60" fill="#000" filter="url(#b1)"/>
<rect x="115.30" y="791.40" width="29.00" height="16.00" rx="6.00" fill="#000" opacity="0.22" filter="url(#b2)"/>
<rect x="117.40" y="792.90" width="24.80" height="9.00" rx="4.50" fill="#000" filter="url(#b1)"/>
<rect x="144.70" y="791.60" width="27.90" height="15.40" rx="5.70" fill="#000" opacity="0.22" filter="url(#b2)"/>
<rect x="146.80" y="793.10" width="23.70" height="8.40" rx="4.20" fill="#000" filter="url(#b1)"/>
<rect x="179.10" y="796.40" width="16.80" height="2.00" rx="1.00" fill="#cfcfcf" filter="url(#b1)"/>
<rect x="203.90" y="791.10" width="28.40" height="16.60" rx="6.30" fill="#000" opacity="0.22" filter="url(#b2)"/>
<rect x="206.00" y="792.60" width="24.20" height="9.60" rx="4.80" fill="#000" filter="url(#b1)"/>
<rect x="263.30" y="794.70" width="24.50" height="10.20" rx="3.10" fill="#000" opacity="0.05" filter="url(#b2)"/>
<rect x="265.40" y="796.20" width="20.30" height="3.20" rx="1.60" fill="#666" filter="url(#b1)"/>
<rect x="293.70" y="794.70" width="22.60" height="10.20" rx="3.10" fill="#000" opacity="0.05" filter="url(#b2)"/>
<rect x="295.80" y="796.20" width="18.40" height="3.20" rx="1.60" fill="#666" filter="url(#b1)"/>
<rect x="350.30" y="795.30" width="21.00" height="10.20" rx="3.10" fill="#000" opacity="0.05" filter="url(#b2)"/>
<rect x="352.40" y="796.80" width="16.80" height="3.20" rx="1.60" fill="#666" filter="url(#b1)"/>
<rect x="115.80" y="830.00" width="26.50" height="12.80" rx="4.40" fill="#000" opacity="0.22" filter="url(#b2)"/>
<rect x="117.90" y="831.50" width="22.30" height="5.80" rx="2.90" fill="#000" filter="url(#b1)"/>
<rect x="143.80" y="828.20" width="27.90" height="16.20" rx="6.10" fill="#000" opacity="0.22" filter="url(#b2)"/>
<rect x="145.90" y="829.70" width="23.70" height="9.20" rx="4.60" fill="#000" filter="url(#b1)"/>
<rect x="150" y="836" width="17" height="5" rx="2.5" fill="#333" opacity="0.7" filter="url(#b3)"/>
<rect x="202.30" y="827.40" width="28.30" height="16.20" rx="6.10" fill="#000" opacity="0.22" filter="url(#b2)"/>
<rect x="204.40" y="828.90" width="24.10" height="9.20" rx="4.60" fill="#000" filter="url(#b1)"/>
<rect x="261.90" y="829.40" width="25.80" height="12.80" rx="4.40" fill="#000" opacity="0.22" filter="url(#b2)"/>
<rect x="264.00" y="830.90" width="21.60" height="5.80" rx="2.90" fill="#000" filter="url(#b1)"/>
<rect x="268" y="837.5" width="16" height="4.5" rx="2" fill="#666" opacity="0.7" filter="url(#b3)"/>
<rect x="288.90" y="827.50" width="28.60" height="18.20" rx="7.10" fill="#000" opacity="0.22" filter="url(#b2)"/>
<rect x="291.00" y="829.00" width="24.40" height="11.20" rx="5.60" fill="#000" filter="url(#b1)"/>
<rect x="295" y="837" width="18" height="6" rx="3" fill="#222" opacity="0.8" filter="url(#b3)"/>
<rect x="347.50" y="829.90" width="27.20" height="14.60" rx="5.30" fill="#000" opacity="0.22" filter="url(#b2)"/>
<rect x="349.60" y="831.40" width="23.00" height="7.60" rx="3.80" fill="#000" filter="url(#b1)"/>
<rect x="114.20" y="868.10" width="27.50" height="15.40" rx="5.70" fill="#000" opacity="0.22" filter="url(#b2)"/>
<rect x="116.30" y="869.60" width="23.30" height="8.40" rx="4.20" fill="#000" filter="url(#b1)"/>
<rect x="143.10" y="868.90" width="27.40" height="14.00" rx="5.00" fill="#000" opacity="0.22" filter="url(#b2)"/>
<rect x="145.20" y="870.40" width="23.20" height="7.00" rx="3.50" fill="#000" filter="url(#b1)"/>
<rect x="174.00" y="870.50" width="22.70" height="9.80" rx="2.90" fill="#000" opacity="0.04" filter="url(#b2)"/>
<rect x="176.10" y="872.00" width="18.50" height="2.80" rx="1.40" fill="#707070" filter="url(#b1)"/>
<rect x="200.30" y="866.80" width="27.60" height="15.40" rx="5.70" fill="#000" opacity="0.22" filter="url(#b2)"/>
<rect x="202.40" y="868.30" width="23.40" height="8.40" rx="4.20" fill="#000" filter="url(#b1)"/>
<rect x="259.20" y="867.20" width="28.50" height="15.00" rx="5.50" fill="#000" opacity="0.22" filter="url(#b2)"/>
<rect x="261.30" y="868.70" width="24.30" height="8.00" rx="4.00" fill="#000" filter="url(#b1)"/>
<rect x="288.20" y="868.20" width="28.10" height="14.60" rx="5.30" fill="#000" opacity="0.22" filter="url(#b2)"/>
<rect x="290.30" y="869.70" width="23.90" height="7.60" rx="3.80" fill="#000" filter="url(#b1)"/>
<rect x="319.50" y="871.20" width="22.80" height="9.60" rx="2.80" fill="#000" opacity="0.02" filter="url(#b2)"/>
<rect x="321.60" y="872.70" width="18.60" height="2.60" rx="1.30" fill="#a8a8a8" filter="url(#b1)"/>
<rect x="347.00" y="869.50" width="26.50" height="15.00" rx="5.50" fill="#000" opacity="0.22" filter="url(#b2)"/>
<rect x="349.10" y="871.00" width="22.30" height="8.00" rx="4.00" fill="#000" filter="url(#b1)"/>
<rect x="119.30" y="913.25" width="21.90" height="14.25" fill="#3a3a3a" opacity="0.8" filter="url(#b3)"/>
<rect x="114.30" y="901.50" width="31.90" height="26.50" rx="10.73" fill="#000" opacity="0.22" filter="url(#b2)"/>
<rect x="117.60" y="904.30" width="25.30" height="17.90" rx="7.78" ry="7.12" fill="#000" filter="url(#b1)"/>
<rect x="148.80" y="911.60" width="21.60" height="10.60" rx="3.30" fill="#000" opacity="0.12" filter="url(#b2)"/>
<rect x="150.90" y="913.10" width="17.40" height="3.60" rx="1.80" fill="#1a1a1a" filter="url(#b3)"/>
<rect x="177.40" y="914.00" width="19.40" height="13.00" fill="#6a6a6a" opacity="0.8" filter="url(#b3)"/>
<rect x="172.40" y="904.50" width="29.40" height="22.00" rx="9.77" fill="#000" opacity="0.22" filter="url(#b2)"/>
<rect x="175.70" y="907.30" width="22.80" height="13.40" rx="7.00" ry="5.38" fill="#000" filter="url(#b1)"/>
<rect x="205.80" y="911.60" width="23.00" height="10.60" rx="3.30" fill="#000" opacity="0.12" filter="url(#b2)"/>
<rect x="207.90" y="913.10" width="18.80" height="3.60" rx="1.80" fill="#1a1a1a" filter="url(#b3)"/>
<rect x="265.80" y="912.00" width="22.20" height="15.50" fill="#3a3a3a" opacity="0.8" filter="url(#b3)"/>
<rect x="260.80" y="899.00" width="32.20" height="29.00" rx="10.85" fill="#000" opacity="0.22" filter="url(#b2)"/>
<rect x="264.10" y="901.80" width="25.60" height="20.40" rx="7.87" ry="8.08" fill="#000" filter="url(#b1)"/>
<rect x="294.30" y="910.60" width="23.70" height="10.80" rx="3.40" fill="#000" opacity="0.12" filter="url(#b2)"/>
<rect x="296.40" y="912.10" width="19.50" height="3.80" rx="1.90" fill="#222" filter="url(#b3)"/>
<rect x="324.80" y="911.75" width="20.40" height="15.25" fill="#555" opacity="0.8" filter="url(#b3)"/>
<rect x="319.80" y="899.50" width="30.40" height="27.50" rx="10.15" fill="#000" opacity="0.22" filter="url(#b2)"/>
<rect x="323.10" y="902.30" width="23.80" height="18.90" rx="7.31" ry="7.50" fill="#000" filter="url(#b1)"/>
<rect x="352.50" y="911.40" width="22.80" height="10.40" rx="3.20" fill="#000" opacity="0.12" filter="url(#b2)"/>
<rect x="354.60" y="912.90" width="18.60" height="3.40" rx="1.70" fill="#333" filter="url(#b3)"/>
<line x1="109.60" y1="710.60" x2="123.50" y2="710.60" stroke="#222" stroke-width="1.0"/>
<line x1="109.60" y1="710.10" x2="109.60" y2="747.30" stroke="#222" stroke-width="1.0"/>
<line x1="224.20" y1="710.60" x2="264.20" y2="710.60" stroke="#222" stroke-width="1.0"/>
<line x1="246.60" y1="710.10" x2="246.60" y2="747.30" stroke="#222" stroke-width="1.0"/>
<line x1="372.00" y1="710.60" x2="381.90" y2="710.60" stroke="#222" stroke-width="1.0"/>
<line x1="381.90" y1="710.10" x2="381.90" y2="747.30" stroke="#222" stroke-width="1.0"/>
<text transform="translate(136.80,715.90) scale(0.95,1)" font-size="14.5" text-anchor="start" >CTRL RNAi</text>
<text transform="translate(275.40,715.90) scale(0.97,1)" font-size="14.5" text-anchor="start" >LAMP1 RNAi</text>
<text transform="translate(116.70,742.90) scale(0.97,1)" font-size="12.2" text-anchor="start" >TCL</text>
<text transform="translate(147.70,742.90) scale(0.97,1)" font-size="12.2" text-anchor="start" >CLF</text>
<text transform="translate(176.80,742.90) scale(0.97,1)" font-size="12.2" text-anchor="start" >cyto</text>
<text transform="translate(208.30,742.90) scale(0.97,1)" font-size="12.2" text-anchor="start" >PLF</text>
<text transform="translate(262.90,742.90) scale(0.97,1)" font-size="12.2" text-anchor="start" >TCL</text>
<text transform="translate(293.10,742.90) scale(0.97,1)" font-size="12.2" text-anchor="start" >CLF</text>
<text transform="translate(322.20,742.90) scale(0.97,1)" font-size="12.2" text-anchor="start" >cyto</text>
<text transform="translate(354.50,742.90) scale(0.97,1)" font-size="12.2" text-anchor="start" >PLF</text>
<text x="390.60" y="769.10" font-size="14.0" text-anchor="start" >LAMP2</text>
<text x="390.60" y="803.30" font-size="14.0" text-anchor="start" >LAMP1</text>
<text x="390.60" y="839.60" font-size="14.0" text-anchor="start" >granzyme B</text>
<text x="390.60" y="880.40" font-size="14.0" text-anchor="start" >Rab7</text>
<text x="390.60" y="917.30" font-size="14.0" text-anchor="start" >p150<tspan font-size="7.0" dy="-6.4">glued</tspan></text>
<text x="390.60" y="942.90" font-size="14.0" text-anchor="start" >p150<tspan font-size="7.0" dy="-6.4">glued</tspan><tspan dy="6.4" dx="-2.2"> level</tspan></text>
<text x="390.60" y="955.30" font-size="10.5" text-anchor="start" >(LAMP1/CTRL RNAi ratio)</text>
<text x="128.80" y="946.60" font-size="12" text-anchor="middle" >1</text>
<text x="159.70" y="946.60" font-size="12" text-anchor="middle" >1</text>
<text x="215.40" y="946.60" font-size="12" text-anchor="middle" >1</text>
<text x="276.20" y="946.60" font-size="12" text-anchor="middle" >1.25</text>
<text x="306.20" y="946.60" font-size="12" text-anchor="middle" >0.78</text>
<text x="365.00" y="946.60" font-size="12" text-anchor="middle" >0.48</text>
</svg>
</body></html>
